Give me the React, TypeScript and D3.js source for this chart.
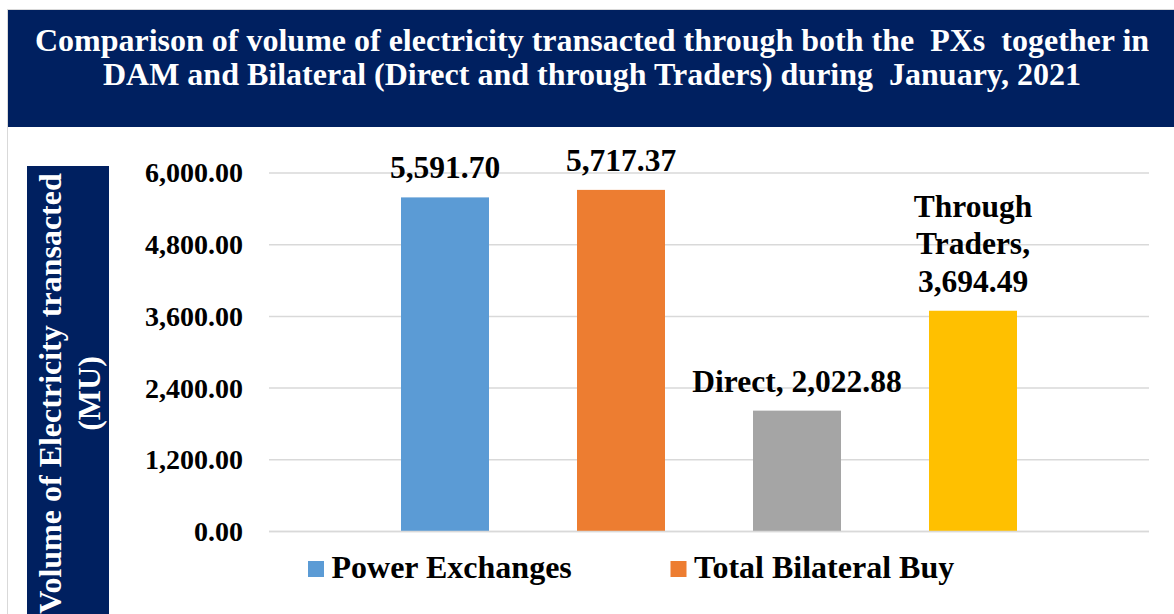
import React, { useRef, useEffect } from "react";
import * as d3 from "d3";

// chart data
const categories = ["Power Exchanges", "Total Bilateral Buy", "Direct", "Through Traders"];
const volumes = [5591.7, 5717.37, 2022.88, 3694.49];
const barColors = ["#5B9BD5", "#ED7D31", "#A5A5A5", "#FFC000"];
const yTicks = [0, 1200, 2400, 3600, 4800, 6000];
// only the first two series show up in the legend
const legendItems = ["Power Exchanges", "Total Bilateral Buy"];
const titleLines = [
  "Comparison of volume of electricity transacted through both the  PXs  together in",
  "DAM and Bilateral (Direct and through Traders) during  January, 2021",
];
const yLabelLines = ["Volume of Electricity transacted", "(MU)"];

const FONT = "'Liberation Serif', 'Times New Roman', serif";
const NAVY = "#002060";

const App = () => {
  const svgRef = useRef<SVGSVGElement | null>(null);

  useEffect(() => {
    const width = 1174;
    const height = 614;
    const svg = d3.select(svgRef.current);
    svg.selectAll("*").remove();
    svg.attr("width", width).attr("height", height).attr("viewBox", `0 0 ${width} ${height}`);

    const margin = { top: 173, right: 25, bottom: 82.5, left: 269 };

    // outer frame
    svg
      .append("rect")
      .attr("x", 7.5)
      .attr("y", 9.5)
      .attr("width", width + 10)
      .attr("height", height + 10)
      .attr("fill", "#fff")
      .attr("stroke", "#D9D9D9")
      .attr("stroke-width", 1);

    // title band
    svg
      .append("rect")
      .attr("x", 8)
      .attr("y", 10)
      .attr("width", width - 8)
      .attr("height", 117)
      .attr("fill", NAVY);

    svg
      .append("g")
      .selectAll("text")
      .data(titleLines)
      .enter()
      .append("text")
      .attr("x", 592)
      .attr("y", (d, i) => 50.5 + i * 34.5)
      .attr("text-anchor", "middle")
      .style("white-space", "pre")
      .attr("font-family", FONT)
      .attr("font-weight", "bold")
      .attr("font-size", 32)
      .attr("fill", "#fff")
      .text((d) => d);

    // y-axis title box
    svg
      .append("rect")
      .attr("x", 27)
      .attr("y", 166)
      .attr("width", 82)
      .attr("height", 460)
      .attr("fill", NAVY);

    svg
      .append("g")
      .selectAll("text")
      .data(yLabelLines)
      .enter()
      .append("text")
      .attr("transform", (d, i) => `translate(${61 + i * 39},393.5) rotate(-90)`)
      .attr("text-anchor", "middle")
      .attr("font-family", FONT)
      .attr("font-weight", "bold")
      .attr("font-size", 32)
      .attr("fill", "#fff")
      .text((d) => d);

    const x = d3
      .scaleBand()
      .domain(categories)
      .range([margin.left, width - margin.right])
      .paddingInner(0.5)
      .paddingOuter(0.75);

    const y = d3
      .scaleLinear()
      .domain([0, 6000])
      .range([height - margin.bottom, margin.top]);

    // gridlines
    const grid = svg.append("g");
    yTicks.forEach((t) => {
      grid
        .append("line")
        .attr("x1", margin.left)
        .attr("x2", width - margin.right)
        .attr("y1", y(t))
        .attr("y2", y(t))
        .attr("stroke", "#D9D9D9")
        .attr("stroke-width", 1.5);
    });

    // y axis labels
    const yAxis = svg
      .append("g")
      .attr("transform", `translate(${margin.left},0)`)
      .call(
        d3
          .axisLeft(y)
          .tickValues(yTicks)
          .tickFormat((d) => d3.format(",.2f")(d as number))
          .tickSize(0)
          .tickPadding(26)
      );
    yAxis.select(".domain").remove();
    yAxis
      .selectAll("text")
      .attr("font-family", FONT)
      .attr("font-weight", "bold")
      .attr("font-size", 28)
      .attr("fill", "#000");

    // bars
    svg
      .append("g")
      .selectAll("rect")
      .data(categories)
      .enter()
      .append("rect")
      .attr("x", (d) => x(d) as number)
      .attr("y", (d, i) => y(volumes[i]))
      .attr("width", x.bandwidth())
      .attr("height", (d, i) => y(0) - y(volumes[i]))
      .attr("fill", (d, i) => barColors[i]);

    // zero line on top of bars
    svg
      .append("line")
      .attr("x1", margin.left)
      .attr("x2", width - margin.right)
      .attr("y1", y(0))
      .attr("y2", y(0))
      .attr("stroke", "#D9D9D9")
      .attr("stroke-width", 1.5);

    // data labels
    const fmt = d3.format(",.2f");
    const labelLines = (d: string, i: number) => {
      if (i < 2) return [fmt(volumes[i])];
      if (d === "Direct") return [`${d}, ${fmt(volumes[i])}`];
      return ["Through", "Traders,", fmt(volumes[i])];
    };
    const labels = svg.append("g");
    categories.forEach((d, i) => {
      const lines = labelLines(d, i);
      const cx = (x(d) as number) + x.bandwidth() / 2;
      const base = y(volumes[i]) - 19;
      lines.forEach((ln, j) => {
        labels
          .append("text")
          .attr("x", cx)
          .attr("y", base - (lines.length - 1 - j) * 37.3)
          .attr("text-anchor", "middle")
          .attr("font-family", FONT)
          .attr("font-weight", "bold")
          .attr("font-size", 31.5)
          .attr("fill", "#000")
          .text(ln);
      });
    });

    // legend
    const legendX = [308, 670.5];
    const legend = svg.append("g");
    legendItems.forEach((name, i) => {
      legend
        .append("rect")
        .attr("x", legendX[i])
        .attr("y", 561)
        .attr("width", 16)
        .attr("height", 16)
        .attr("fill", barColors[categories.indexOf(name)]);
      legend
        .append("text")
        .attr("x", legendX[i] + 23.5)
        .attr("y", 577.5)
        .attr("font-family", FONT)
        .attr("font-weight", "bold")
        .attr("font-size", 32)
        .attr("fill", "#000")
        .text(name);
    });
  }, []);

  return (
    <svg
      ref={svgRef}
      style={{ position: "absolute", left: 0, top: 0, display: "block" }}
    ></svg>
  );
};

export default App;
